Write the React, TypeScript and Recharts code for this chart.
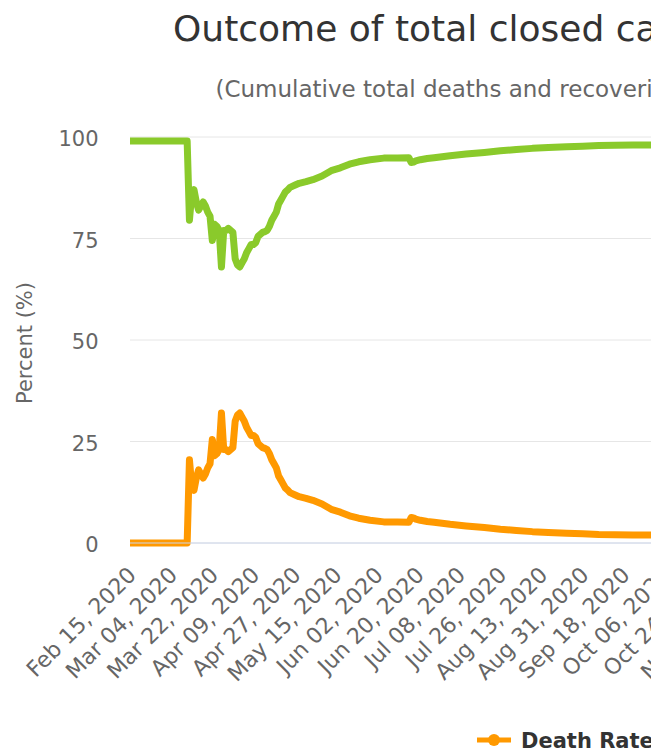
import { LineChart, Line, XAxis, YAxis, CartesianGrid } from "recharts";

// days counted from Feb 15, 2020
const days = [
  0, 25, 26, 27, 28, 29, 30, 31, 32, 33, 34, 35, 36, 37, 38, 39, 40, 41, 42, 43,
  44, 45, 46, 47, 48, 49, 50, 51, 52, 53, 54, 55, 56, 57, 58, 59, 60, 61, 62, 63,
  64, 65, 66, 67, 68, 69, 70, 72, 74, 77, 80, 84, 88, 92, 96, 100, 105, 111, 117,
  122, 123, 124, 125, 127, 130, 133, 140, 147, 155, 162, 169, 176, 183, 191, 198,
  205, 212, 220, 228, 234,
];

const deathRate = [
  0, 0, 20.5, 14, 13, 16, 18, 17, 16, 17, 18.5, 19.5, 25.5, 21.5, 22, 23, 32, 23, 23, 22.5,
  23, 23.5, 30, 31.5, 32, 31, 30, 28.5, 27.5, 26.5, 26.5, 26, 24.5, 24, 23.5, 23.3, 23, 22, 20.5, 19.5,
  18.5, 16.5, 15.5, 14.5, 13.5, 13, 12.4, 11.9, 11.4, 11, 10.5, 9.6, 8.3, 7.6, 6.7, 6.1, 5.6, 5.2, 5.15,
  5.1, 6.3, 6.2, 5.9, 5.6, 5.3, 5.1, 4.6, 4.2, 3.8, 3.4, 3.1, 2.8, 2.6, 2.4, 2.25,
  2.1, 2.05, 1.97, 1.95, 1.93,
];

const recoveryRate = [
  99, 99, 79.5, 86, 87, 84, 82, 83, 84, 83, 81.5, 80.5, 74.5, 78.5, 78, 77, 68, 77, 77, 77.5,
  77, 76.5, 70, 68.5, 68, 69, 70, 71.5, 72.5, 73.5, 73.5, 74, 75.5, 76, 76.5, 76.7, 77, 78, 79.5, 80.5,
  81.5, 83.5, 84.5, 85.5, 86.5, 87, 87.6, 88.1, 88.6, 89, 89.5, 90.4, 91.7, 92.4, 93.3, 93.9, 94.4, 94.8, 94.85,
  94.9, 93.7, 93.8, 94.1, 94.4, 94.7, 94.9, 95.4, 95.8, 96.2, 96.6, 96.9, 97.2, 97.4, 97.6, 97.75,
  97.9, 97.95, 98.03, 98.05, 98.07,
];

const tickDays = [0, 18, 36, 54, 72, 90, 108, 126, 144, 162, 180, 198, 216, 234, 252, 270, 288];
const tickLabels = [
  "Feb 15, 2020", "Mar 04, 2020", "Mar 22, 2020", "Apr 09, 2020", "Apr 27, 2020",
  "May 15, 2020", "Jun 02, 2020", "Jun 20, 2020", "Jul 08, 2020", "Jul 26, 2020",
  "Aug 13, 2020", "Aug 31, 2020", "Sep 18, 2020", "Oct 06, 2020", "Oct 24, 2020",
  "Nov 11, 2020", "Nov 29, 2020",
];
const yTicks = [0, 25, 50, 75, 100];

const data = days.map((d, i) => ({ day: d, death: deathRate[i], recovery: recoveryRate[i] }));

const FONT = "'DejaVu Sans', sans-serif";

const XTick = ({ x, y, payload }: any) => {
  const label = tickLabels[tickDays.indexOf(payload.value)];
  const ax = x + 2;
  const ay = y + 28;
  return (
    <text
      x={ax}
      y={ay}
      dy="0.35em"
      textAnchor="end"
      transform={`rotate(-45, ${ax}, ${ay})`}
      fontSize={22}
      fontFamily={FONT}
      fill="#666666"
    >
      {label}
    </text>
  );
};

const YTick = ({ x, y, payload }: any) => (
  <text x={x - 31.5} y={y + 1.8} dy="0.35em" textAnchor="end" fontSize={21} fontFamily={FONT} fill="#666666">
    {payload.value}
  </text>
);

const YTitle = (props: any) => {
  const vb = props.viewBox || { y: 129, height: 406 };
  const cx = 24;
  const cy = vb.y + vb.height / 2 + 3;
  return (
    <text x={cx} y={cy} textAnchor="middle" transform={`rotate(-90, ${cx}, ${cy})`} fontSize={21} fontFamily={FONT} fill="#666666">
      Percent (%)
    </text>
  );
};

export default function App() {
  return (
    <div style={{ position: "relative", width: 646, height: 746, overflow: "hidden", background: "#fff", fontFamily: FONT }}>
      <LineChart width={800} height={746} data={data} margin={{ top: 129, right: 15, bottom: 91, left: 0 }}>
        <CartesianGrid vertical={false} stroke="#e6e6e6" />
        <XAxis
          type="number"
          dataKey="day"
          domain={[0, 290]}
          ticks={tickDays}
          interval={0}
          tick={<XTick />}
          tickLine={false}
          tickSize={0}
          tickMargin={0}
          axisLine={{ stroke: "#ccd6eb" }}
          height={120}
        />
        <YAxis
          type="number"
          domain={[0, 100]}
          ticks={yTicks}
          interval={0}
          tick={<YTick />}
          tickLine={false}
          tickSize={0}
          tickMargin={0}
          axisLine={false}
          width={122}
          label={YTitle}
        />
        <Line
          type="linear"
          dataKey="recovery"
          stroke="#8ACA2B"
          strokeWidth={7}
          strokeLinejoin="round"
          dot={false}
          isAnimationActive={false}
        />
        <Line
          type="linear"
          dataKey="death"
          stroke="#FF9900"
          strokeWidth={7}
          strokeLinejoin="round"
          dot={false}
          isAnimationActive={false}
        />
      </LineChart>
      <svg width={646} height={746} style={{ position: "absolute", left: 0, top: 0, pointerEvents: "none" }}>
        <text x={165} y={33} fontSize={36} fontFamily={FONT} fill="#333333">
          Outcome of total closed cases (recovery rate vs death rate)
        </text>
        <text x={207.5} y={89} fontSize={23} fontFamily={FONT} fill="#666666">
          (Cumulative total deaths and recoveries over cumulative number of closed cases)
        </text>
        <line x1={469} y1={732} x2={503} y2={732} stroke="#FF9900" strokeWidth={5} />
        <circle cx={486} cy={732} r={6} fill="#FF9900" />
        <text x={513} y={740} fontSize={21} fontWeight="bold" fontFamily={FONT} fill="#333333">
          Death Rate
        </text>
        <line x1={669} y1={732} x2={703} y2={732} stroke="#8ACA2B" strokeWidth={5} />
        <circle cx={686} cy={732} r={6} fill="#8ACA2B" />
        <text x={713} y={740} fontSize={21} fontWeight="bold" fontFamily={FONT} fill="#333333">
          Recovery Rate
        </text>
      </svg>
    </div>
  );
}
